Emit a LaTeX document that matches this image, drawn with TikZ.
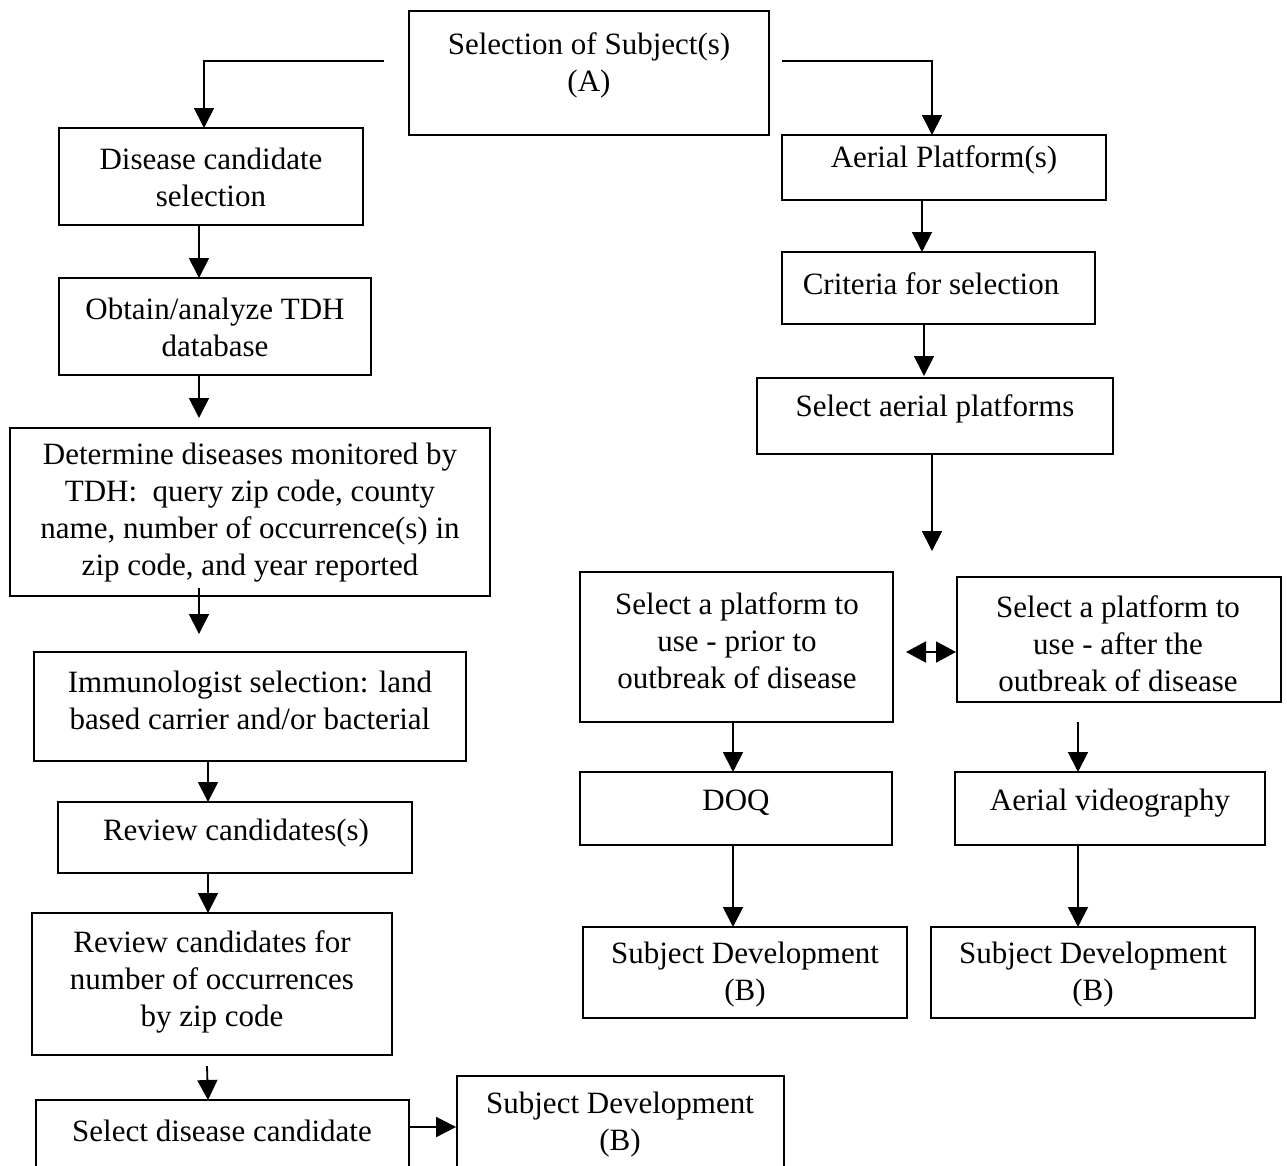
\documentclass[tikz,border=0pt]{standalone}
\usepackage{fontspec}
\setmainfont{Liberation Serif}
\usetikzlibrary{arrows.meta,calc}
\begin{document}
\begin{tikzpicture}[x=1pt,y=-1pt,line width=1.8pt,
  box/.style={draw,rectangle,inner sep=0pt},
  txt/.style={align=center,inner sep=0pt,font=\fontsize{31}{37}\selectfont},
  arr/.style={-{Triangle[length=20pt,width=20pt]}},
  darr/.style={{Triangle[length=20pt,width=21pt]}-{Triangle[length=20pt,width=21pt]}}]
\clip (0,0) rectangle (1287,1165);
\fill[white] (0,0) rectangle (1287,1165);

% ---- boxes ----
\node[box,minimum width=360pt,minimum height=124pt] (A)   at (589,73)   {};
\node[box,minimum width=304pt,minimum height=97pt]  (dis) at (211,176.5){};
\node[box,minimum width=312pt,minimum height=97pt]  (obt) at (215,326.5){};
\node[box,minimum width=480pt,minimum height=168pt] (det) at (250,512)  {};
\node[box,minimum width=432pt,minimum height=109pt] (imm) at (250,706.5){};
\node[box,minimum width=354pt,minimum height=71pt]  (rv1) at (235,837.5){};
\node[box,minimum width=360pt,minimum height=142pt] (rv2) at (212,984)  {};
\node[box,minimum width=373pt,minimum height=100pt] (sel) at (222.5,1150){};
\node[box,minimum width=327pt,minimum height=104pt] (sdL) at (620.5,1128){};
\node[box,minimum width=324pt,minimum height=65pt]  (aer) at (944,167.5){};
\node[box,minimum width=313pt,minimum height=72pt]  (cri) at (938.5,288){};
\node[box,minimum width=356pt,minimum height=76pt]  (sap) at (935,416)  {};
\node[box,minimum width=313pt,minimum height=150pt] (pri) at (736.5,647){};
\node[box,minimum width=324pt,minimum height=125pt] (aft) at (1119,639.5){};
\node[box,minimum width=312pt,minimum height=73pt]  (doq) at (736,808.5){};
\node[box,minimum width=310pt,minimum height=73pt]  (vid) at (1110,808.5){};
\node[box,minimum width=324pt,minimum height=91pt]  (sd1) at (745,972.5){};
\node[box,minimum width=324pt,minimum height=91pt]  (sd2) at (1093,972.5){};

% ---- texts ----
\node[txt] (A-t)   at (589,65)   {Selection of Subject(s)\\(A)};
\node[txt] (dis-t) at (211,177)  {Disease candidate\\selection};
\node[txt] (obt-t) at (215,327)  {Obtain/analyze TDH\\database};
\node[txt] (det-t) at (250,513)  {Determine diseases monitored by\\TDH:\ \ query zip code, county\\name, number of occurrence(s) in\\zip code, and year reported};
\node[txt] (imm-t) at (250,700)  {Immunologist selection: land\\based carrier and/or bacterial};
\node[txt] (rv1-t) at (236,833)  {Review candidates(s)};
\node[txt] (rv2-t) at (212,982)  {Review candidates for\\number of occurrences\\by zip code};
\node[txt] (sel-t) at (222,1131) {Select disease candidate};
\node[txt] (sdL-t) at (620,1125) {Subject Development\\(B)};
\node[txt] (aer-t) at (944,160)  {Aerial Platform(s)};
\node[txt] (cri-t) at (931,284)  {Criteria for selection};
\node[txt] (sap-t) at (935,409)  {Select aerial platforms};
\node[txt] (pri-t) at (737,641)  {Select a platform to\\use - prior to\\outbreak of disease};
\node[txt] (aft-t) at (1118,644) {Select a platform to\\use - after the\\outbreak of disease};
\node[txt] (doq-t) at (736,803)  {DOQ};
\node[txt] (vid-t) at (1110,803) {Aerial videography};
\node[txt] (sd1-t) at (745,975)  {Subject Development\\(B)};
\node[txt] (sd2-t) at (1093,975) {Subject Development\\(B)};

% ---- connector ends ----
\coordinate (aL)  at (384,61);
\coordinate (aR)  at (782,61);
\coordinate (t1)  at (204,128);
\coordinate (t2)  at (932,135);
\coordinate (t3)  at (199,278);
\coordinate (t4)  at (199,418);
\coordinate (s5)  at (199,588);
\coordinate (t5)  at (199,634);
\coordinate (t6)  at (208,802);
\coordinate (t7)  at (208,913);
\coordinate (s8)  at (207,1066);
\coordinate (t8)  at (208,1100);
\coordinate (t10) at (922,252);
\coordinate (t11) at (924,376);
\coordinate (t12) at (932,551);
\coordinate (dl)  at (906,652);
\coordinate (dr)  at (956,652);
\coordinate (t14) at (733,772);
\coordinate (s15) at (1078,722);
\coordinate (t15) at (1078,772);
\coordinate (t16) at (733,927);
\coordinate (t17) at (1078,927);

% ---- connectors ----
\draw[arr] (aL) -| (t1);
\draw[arr] (aR) -| (t2);
\draw[arr] (dis.south -| t3) -- (t3);
\draw[arr] (obt.south -| t4) -- (t4);
\draw[arr] (s5) -- (t5);
\draw[arr] (imm.south -| t6) -- (t6);
\draw[arr] (rv1.south -| t7) -- (t7);
\draw[arr] (s8) -- (t8);
\draw[arr] (sel.east |- 0,1127) -- (sdL.west |- 0,1127);
\draw[arr] (aer.south -| t10) -- (t10);
\draw[arr] (cri.south -| t11) -- (t11);
\draw[arr] (sap.south -| t12) -- (t12);
\draw[darr] (dl) -- (dr);
\draw[arr] (pri.south -| t14) -- (t14);
\draw[arr] (s15) -- (t15);
\draw[arr] (doq.south -| t16) -- (t16);
\draw[arr] (vid.south -| t17) -- (t17);
\end{tikzpicture}
\end{document}
